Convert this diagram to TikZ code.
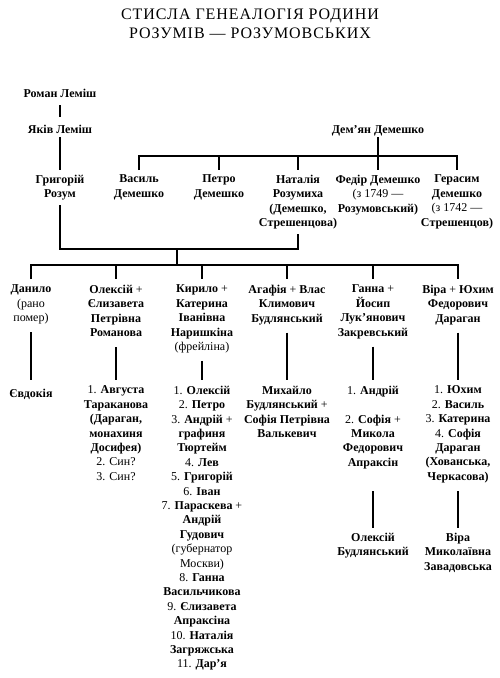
\documentclass[tikz,border=0pt]{standalone}
\usepackage{fontspec}
\setmainfont{Liberation Serif}
\newfontfamily\titlefont[LetterSpace=6]{Liberation Serif}
\newcommand\R[1]{\textmd{#1}}
\begin{document}
\begin{tikzpicture}[x=1pt,y=-1pt,
  person/.style={anchor=north, inner sep=0pt, outer sep=0pt, align=center,
    font=\fontsize{12}{14.4}\selectfont\bfseries,
    execute at begin node={\rule{0pt}{11pt}},
    execute at end node={\rule[-4pt]{0pt}{4pt}}},
  titleline/.style={anchor=base, inner sep=0pt, font=\titlefont\fontsize{16}{19}\selectfont},
  link/.style={line width=1.1pt, black}]
\useasboundingbox (0,0) rectangle (500,678);
% title
\node[titleline] (t1) at (250,19.3) {СТИСЛА ГЕНЕАЛОГІЯ РОДИНИ};
\node[titleline] (t2) at (250,38.3) {РОЗУМІВ — РОЗУМОВСЬКИХ};
% generation 1-2
\node[person] (roman) at (60,86) {Роман Леміш};
\node[person] (jakiv) at (60,122) {Яків Леміш};
\node[person] (demian) at (378,122) {Дем’ян Демешко};
% generation 3
\node[person] (grigoriy) at (60,175) {Григорій\\Розум};
\node[person] (vasyl) at (139,175) {Василь\\Демешко};
\node[person] (petro) at (219,175) {Петро\\Демешко};
\node[person] (nataliya) at (298,175) {Наталія\\Розумиха\\(Демешко,\\Стрешенцова)};
\node[person] (fedir) at (378,175) {Федір Демешко\\\R{(з 1749 —}\\Розумовський)};
\node[person] (herasym) at (457,175) {Герасим\\Демешко\\\R{(з 1742 —}\\Стрешенцов)};
% generation 4
\node[person] (danylo) at (31,285) {Данило\\\R{(рано}\\\R{помер)}};
\node[person] (oleksiy) at (116,285) {Олексій \R{+}\\Єлизавета\\Петрівна\\Романова};
\node[person] (kyrylo) at (202,285) {Кирило \R{+}\\Катерина\\Іванівна\\Наришкіна\\\R{(фрейліна)}};
\node[person] (ahafiya) at (287,285) {Агафія \R{+} Влас\\Климович\\Будлянський};
\node[person] (hanna) at (373,285) {Ганна \R{+}\\Йосип\\Лук’янович\\Закревський};
\node[person] (vira) at (458,285) {Віра \R{+} Юхим\\Федорович\\Дараган};
% generation 5
\node[person] (yevdokiya) at (31,386) {Євдокія};
\node[person] (oleksiykids) at (116,386) {\R{1.} Августа\\Тараканова\\(Дараган,\\монахиня\\Досифея)\\\R{2. Син?}\\\R{3. Син?}};
\node[person] (kyrylokids) at (202,386) {\R{1.} Олексій\\\R{2.} Петро\\\R{3.} Андрій \R{+}\\графиня\\Тюртейм\\\R{4.} Лев\\\R{5.} Григорій\\\R{6.} Іван\\\R{7.} Параскева \R{+}\\Андрій\\Гудович\\\R{(губернатор}\\\R{Москви)}\\\R{8.} Ганна\\Васильчикова\\\R{9.} Єлизавета\\Апраксіна\\\R{10.} Наталія\\Загряжська\\\R{11.} Дар’я};
\node[person] (ahafiyakid) at (287,386) {Михайло\\Будлянський \R{+}\\Софія Петрівна\\Валькевич};
\node[person] (hannakids) at (373,386) {\R{1.} Андрій\\\mbox{}\\\R{2.} Софія \R{+}\\Микола\\Федорович\\Апраксін};
\node[person] (virakids) at (458,386) {\R{1.} Юхим\\\R{2.} Василь\\\R{3.} Катерина\\\R{4.} Софія\\Дараган\\(Хованська,\\Черкасова)};
% generation 6
\node[person] (hannagrand) at (373,533) {Олексій\\Будлянський};
\node[person] (viragrand) at (458,533) {Віра\\Миколаївна\\Завадовська};
% junctions
\coordinate (jd) at (378,156);
\coordinate (ju) at (177,249);
\coordinate (jc) at (177,265);
% connectors
\draw[link, shorten <=4pt, shorten >=5pt] (roman.south) -- (jakiv.north);
\draw[link, shorten >=5pt] (jakiv.south) -- (grigoriy.north);
\draw[link, shorten >=5pt] (demian.south) -- (fedir.north);
\draw[link, shorten <=5pt, shorten >=5pt] (vasyl.north) |- (jd) -| (herasym.north);
\draw[link, shorten >=5pt] (petro.north |- jd) -- (petro.north);
\draw[link, shorten >=5pt] (nataliya.north |- jd) -- (nataliya.north);
\draw[link, shorten <=3.6pt, shorten >=3.8pt] (grigoriy.south) |- (ju) -| (nataliya.south);
\draw[link] (ju) -- (jc);
\draw[link, shorten <=6pt, shorten >=6pt] (danylo.north) |- (jc) -| (vira.north);
\foreach \n in {oleksiy,kyrylo,ahafiya,hanna}
  \draw[link, shorten >=6pt] (\n.north |- jc) -- (\n.north);
\draw[link, shorten <=6.5pt, shorten >=6pt] (danylo.south) -- (yevdokiya.north);
\draw[link, shorten <=6.5pt, shorten >=6pt] (oleksiy.south) -- (oleksiykids.north);
\draw[link, shorten <=6.5pt, shorten >=6pt] (kyrylo.south) -- (kyrylokids.north);
\draw[link, shorten <=6.5pt, shorten >=6pt] (ahafiya.south) -- (ahafiyakid.north);
\draw[link, shorten <=6.5pt, shorten >=6pt] (hanna.south) -- (hannakids.north);
\draw[link, shorten <=6.5pt, shorten >=6pt] (vira.south) -- (virakids.north);
\draw[link, shorten <=7pt, shorten >=5pt] (hannakids.south |- virakids.south) -- (hannagrand.north);
\draw[link, shorten <=7pt, shorten >=5pt] (virakids.south) -- (viragrand.north);
\end{tikzpicture}
\end{document}
